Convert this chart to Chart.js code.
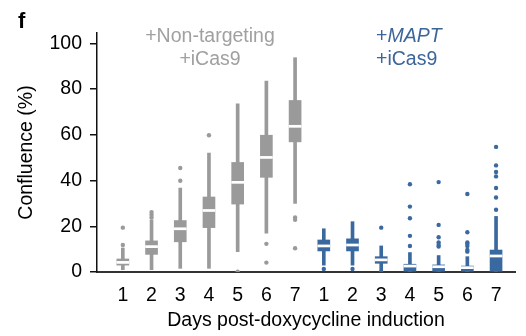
<!DOCTYPE html>
<html>
<head>
<meta charset="utf-8">
<script src="https://cdn.jsdelivr.net/npm/chart.js@4/dist/chart.umd.min.js"></script>
<style>
html,body{margin:0;padding:0;background:#fff;}
#wrap{width:526px;height:336px;position:relative;}
</style>
</head>
<body>
<div id="wrap"><canvas id="c" width="526" height="336"></canvas></div>
<script>
// Tick labels (days) for both groups
const days = ['1','2','3','4','5','6','7','1','2','3','4','5','6','7'];

// +Non-targeting +iCas9 (grey)
const ntMin = [1, 1, 1.6, 1.6, 8.9, 17, 30];
const ntQ1  = [3, 7.7, 13.2, 19.4, 29.7, 41.4, 56.9];
const ntMed = [4.2, 11.1, 18.9, 26.9, 39.2, 50.1, 63.7];
const ntQ3  = [5.7, 13.6, 22.5, 32.8, 47.9, 59.8, 75];
const ntMax = [10.5, 22.8, 36.7, 52, 73.5, 83.5, 93.7];
const ntOut = [[11.8, 19.4], [23.8, 25, 26.2], [39.9, 45.5], [59.8], [0.1], [12.3, 4.1], [23.8, 22.8, 10.4]];

// +MAPT +iCas9 (blue)
const mMin = [3, 3, 0.5, 0, 0, 0, 0];
const mQ1  = [9.2, 9.2, 3.8, 0, 0, 0, 0];
const mMed = [11.4, 11.8, 5.3, 2.6, 2.3, 1.9, 7];
const mQ3  = [14, 14.5, 6.7, 3.4, 3.1, 2.6, 9.6];
const mMax = [18.9, 22, 11.4, 8.5, 7.2, 6.7, 24.3];
const mOut = [[1.3], [1.3], [19.4, 0], [38.4, 28.6, 23.5, 15.8, 11.4, 0],
              [39.3, 20.6, 15.2, 12.9, 11.8, 11.1, 0], [34.1, 17.4, 12.9, 12.3, 11.4, 9.6, 8.9, 0],
              [54.7, 46.6, 43.7, 41.8, 36.7, 32.6, 27.2, 0]];

const GREY = '#9a9a9a';
const BLUE = '#3a69a0';
const FS = 19.5;

const mins = ntMin.concat(mMin);
const q1s = ntQ1.concat(mQ1);
const meds = ntMed.concat(mMed);
const q3s = ntQ3.concat(mQ3);
const maxs = ntMax.concat(mMax);
const outs = ntOut.concat(mOut);
const cols = days.map((d, i) => i < 7 ? GREY : BLUE);

const MED_HALF = 0.45;

const whiskerData = days.map((d, i) => ({x: i, y: [mins[i], maxs[i]]}));
const boxData = days.map((d, i) => ({x: i, y: [q1s[i], q3s[i]]}));
const medData = days.map((d, i) => ({x: i, y: [meds[i] - MED_HALF, meds[i] + MED_HALF]}));
const outData = [];
const outCols = [];
outs.forEach((arr, i) => arr.forEach(v => { outData.push({x: i, y: v}); outCols.push(cols[i]); }));

Chart.defaults.font.family = '"Liberation Sans", Arial, sans-serif';
Chart.defaults.font.size = FS;
Chart.defaults.color = '#000';

const textPlugin = {
  id: 'texts',
  afterDraw(chart) {
    const ctx = chart.ctx;
    ctx.save();
    ctx.textBaseline = 'middle';
    ctx.font = 'bold 22px "Liberation Sans", Arial, sans-serif';
    ctx.fillStyle = '#000';
    ctx.textAlign = 'left';
    ctx.fillText('f', 18, 22);
    ctx.font = FS + 'px "Liberation Sans", Arial, sans-serif';
    ctx.fillStyle = '#a0a0a0';
    ctx.textAlign = 'center';
    ctx.fillText('+Non-targeting', 210, 37);
    ctx.fillText('+iCas9', 210, 60);
    ctx.fillStyle = '#3c659a';
    ctx.textAlign = 'left';
    ctx.fillText('+', 376, 37);
    const pw = ctx.measureText('+').width;
    ctx.font = 'italic ' + FS + 'px "Liberation Sans", Arial, sans-serif';
    ctx.fillText('MAPT', 376 + pw, 37);
    ctx.font = FS + 'px "Liberation Sans", Arial, sans-serif';
    ctx.fillText('+iCas9', 376, 60);
    ctx.restore();
  }
};

new Chart(document.getElementById('c'), {
  type: 'bar',
  data: {
    datasets: [
      {data: whiskerData, backgroundColor: cols, barThickness: 3, order: 4},
      {data: boxData, backgroundColor: cols, barThickness: 12, order: 3},
      {data: medData, backgroundColor: '#ffffff', barThickness: 12, order: 2},
      {type: 'scatter', data: outData, backgroundColor: outCols, borderWidth: 0, pointRadius: 2.2, order: 1}
    ]
  },
  options: {
    responsive: false,
    animation: false,
    plugins: {legend: {display: false}, tooltip: {enabled: false}},
    layout: {padding: {top: 33, right: 11, left: 0, bottom: 0}},
    datasets: {bar: {grouped: false}},
    scales: {
      x: {
        type: 'linear',
        min: -0.9,
        max: 13.66,
        offset: false,
        grid: {display: false},
        border: {display: true, color: '#333', width: 2},
        afterBuildTicks(s) { s.ticks = days.map((d, i) => ({value: i})); },
        afterFit(s) { s.height = 64; },
        ticks: {
          padding: 4,
          maxRotation: 0,
          autoSkip: false,
          callback: (v) => days[v] !== undefined ? days[v] : ''
        },
        title: {display: true, text: 'Days post-doxycycline induction', padding: {top: 4, bottom: 4}}
      },
      y: {
        min: 0,
        max: 104.5,
        afterBuildTicks(s) { s.ticks = [0, 20, 40, 60, 80, 100].map(v => ({value: v})); },
        afterFit(s) { s.width = 97; },
        grid: {display: true, drawOnChartArea: false, drawTicks: true, tickLength: 7, color: '#111', lineWidth: 1.5},
        border: {display: true, color: '#111', width: 1.5},
        ticks: {padding: 8},
        title: {display: true, text: 'Confluence (%)', padding: {top: 15, bottom: 0}}
      }
    }
  },
  plugins: [textPlugin]
});
</script>
</body>
</html>
